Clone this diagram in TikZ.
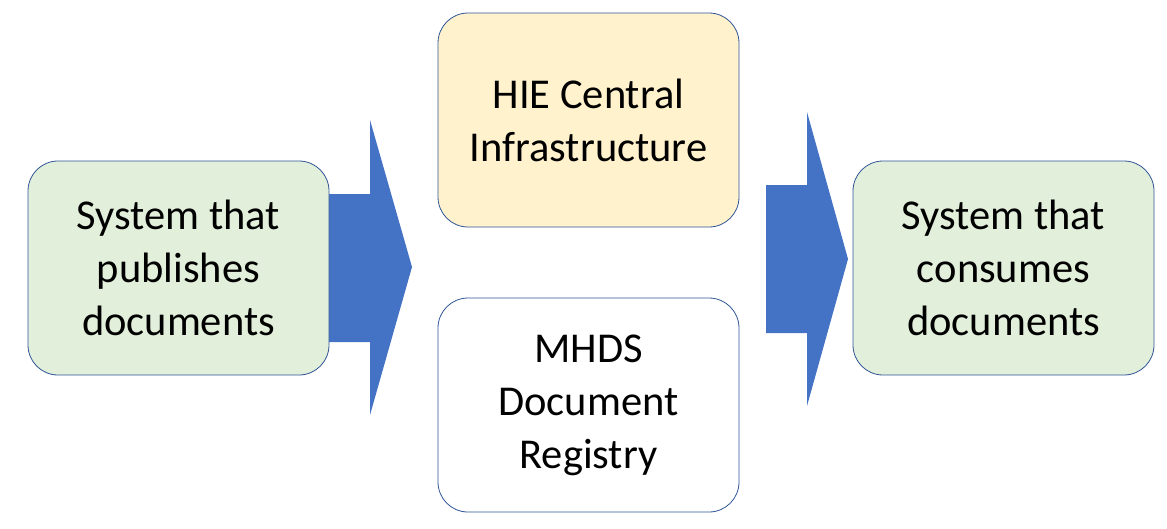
\documentclass[tikz,border=0pt]{standalone}
\usepackage{fontspec}
\setmainfont{Carlito}
\usepackage{tikz}
\usetikzlibrary{arrows.meta}
\definecolor{boxgreen}{HTML}{E2EFDA}
\definecolor{boxyellow}{HTML}{FFF2CC}
\definecolor{boxline}{HTML}{2F5597}
\definecolor{arrowblue}{HTML}{4472C4}

\begin{document}
\begin{tikzpicture}[x=1pt,y=-1pt]
\useasboundingbox (0,0) rectangle (1167,528);
%\tikzstyle{sys}=[fill=boxgreen]
	% big block arrows behind the boxes
	\fill [arrowblue] (320,194) -- (370,194) -- (370,120) -- (412,267) -- (370,415) -- (370,342) -- (320,342) -- cycle;
	\fill [arrowblue] (766,185) -- (807,185) -- (807,112) -- (848,259) -- (807,406) -- (807,333) -- (766,333) -- cycle;
\begin{scope}[every node/.style={rectangle,rounded corners=30pt,draw=boxline,line width=0.8pt,minimum width=301pt,minimum height=214pt,align=center,font=\fontsize{42.5}{53}\selectfont}]
    \node[fill=boxgreen] (pub) at (178.5,268) {System that\\publishes\\documents};
    \node[fill=boxyellow] (hie) at (588.5,120) {HIE Central\\Infrastructure};
    \node[fill=white] (reg) at (588.5,405) {MHDS\\Document\\Registry};
    \node[fill=boxgreen] (con) at (1003.5,268) {System that\\consumes\\documents};
\end{scope}
\end{tikzpicture}
\end{document}
